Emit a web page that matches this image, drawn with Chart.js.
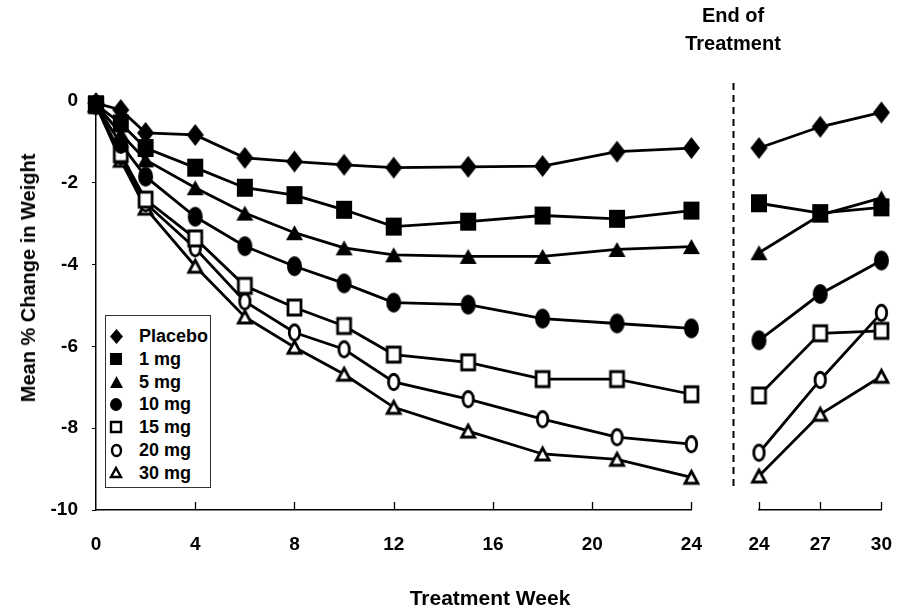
<!DOCTYPE html>
<html><head><meta charset="utf-8">
<script src="https://cdn.jsdelivr.net/npm/chart.js@4"></script>
<style>
html,body{margin:0;padding:0;background:#fff;}
body{width:915px;height:609px;position:relative;overflow:hidden;font-family:"Liberation Sans",Arial,sans-serif;font-weight:bold;color:#000;}
canvas{position:absolute;top:0;}
#c1{left:0;}
#c2{left:725px;}
.t{position:absolute;white-space:nowrap;line-height:1;transform:translate(-50%,-50%);}
#legend{position:absolute;left:105px;top:315px;width:106px;height:173px;border:1px solid #333;box-sizing:border-box;background:#fff;}
.row{position:absolute;left:0;width:104px;height:22px;font-size:18px;line-height:22px;white-space:nowrap;}
.row canvas{position:absolute;}
.row span{position:absolute;left:33px;top:0;white-space:nowrap;}
</style></head><body>
<canvas id="c1" width="725" height="609"></canvas>
<canvas id="c2" width="190" height="609"></canvas>
<div class="t" style="left:28px;top:278px;font-size:20px;transform:translate(-50%,-50%) rotate(-90deg);">Mean % Change in Weight</div>
<div class="t" style="left:490px;top:597px;font-size:21px;">Treatment Week</div>
<div class="t" style="left:733px;top:15px;font-size:20px;">End of</div>
<div class="t" style="left:733px;top:43px;font-size:20px;">Treatment</div>
<div id="legend"></div>
<script>
// ---- data ----
const seriesNames = ['Placebo', '1 mg', '5 mg', '10 mg', '15 mg', '20 mg', '30 mg'];
const weeks = [0, 1, 2, 4, 6, 8, 10, 12, 15, 18, 21, 24];
const placebo = [-0.05, -0.22, -0.78, -0.83, -1.39, -1.48, -1.56, -1.63, -1.61, -1.59, -1.24, -1.15];
const mg1  = [-0.08, -0.55, -1.15, -1.63, -2.12, -2.30, -2.66, -3.07, -2.95, -2.80, -2.88, -2.68];
const mg5  = [-0.08, -0.80, -1.44, -2.12, -2.74, -3.22, -3.59, -3.76, -3.80, -3.80, -3.63, -3.56];
const mg10 = [-0.10, -1.05, -1.85, -2.83, -3.55, -4.04, -4.46, -4.93, -4.98, -5.32, -5.44, -5.56];
const mg15 = [-0.10, -1.30, -2.41, -3.36, -4.52, -5.05, -5.50, -6.20, -6.39, -6.80, -6.80, -7.17];
const mg20 = [-0.10, -1.35, -2.50, -3.60, -4.90, -5.66, -6.07, -6.87, -7.29, -7.78, -8.22, -8.39];
const mg30 = [-0.10, -1.45, -2.62, -4.04, -5.28, -6.02, -6.68, -7.49, -8.07, -8.63, -8.76, -9.20];

const postWeeks = [24, 27, 30];
const postPlacebo = [-1.15, -0.63, -0.28];
const post1  = [-2.50, -2.74, -2.60];
const post5  = [-3.71, -2.79, -2.37];
const post10 = [-5.85, -4.72, -3.90];
const post15 = [-7.20, -5.68, -5.62];
const post20 = [-8.60, -6.82, -5.18];
const post30 = [-9.17, -7.66, -6.73];

const xTicksMain = [0, 4, 8, 12, 16, 20, 24];
const xTicksPost = [24, 27, 30];
const yTicks = [0, -2, -4, -6, -8, -10];

// ---- marker images ----
function makeMarker(kind, filled, w, h, lw) {
  const c = document.createElement('canvas');
  const pad = filled ? 1 : Math.ceil(lw * 2);
  c.width = Math.round(w + 2 * pad); c.height = Math.round(h + 2 * pad);
  const g = c.getContext('2d');
  g.translate(c.width / 2, c.height / 2);
  g.beginPath();
  if (kind === 'diamond') { g.moveTo(0, -h/2); g.lineTo(w/2, 0); g.lineTo(0, h/2); g.lineTo(-w/2, 0); g.closePath(); }
  else if (kind === 'square') { g.rect(-w/2, -h/2, w, h); }
  else if (kind === 'triangle') { g.moveTo(0, -h/2); g.lineTo(w/2, h/2); g.lineTo(-w/2, h/2); g.closePath(); }
  else { g.ellipse(0, 0, w/2, h/2, 0, 0, Math.PI * 2); }
  if (filled) { g.fillStyle = '#000'; g.fill(); }
  else { g.fillStyle = '#fff'; g.fill(); g.lineWidth = lw; g.strokeStyle = '#000'; g.lineJoin = 'miter'; g.stroke(); }
  return c;
}
const markerSpec = [
  ['diamond', true, 17, 22], ['square', true, 16, 18], ['triangle', true, 17, 15],
  ['circle', true, 15, 20], ['square', false, 13, 15], ['circle', false, 10.5, 15.5], ['triangle', false, 13, 12]
];
const legendSpec = [
  ['diamond', true, 13, 15], ['square', true, 12, 12], ['triangle', true, 13, 12],
  ['circle', true, 12, 13], ['square', false, 10, 10], ['circle', false, 9, 11], ['triangle', false, 10, 9]
];
const markers = markerSpec.map(s => makeMarker(s[0], s[1], s[2], s[3], 2.8));

const mainSeries = [placebo, mg1, mg5, mg10, mg15, mg20, mg30];
const postSeries = [postPlacebo, post1, post5, post10, post15, post20, post30];

const FONT = '"Liberation Sans", Arial, sans-serif';
function ds(xs, ys, i) {
  return {
    label: seriesNames[i],
    data: xs.map((x, k) => ({ x: x, y: ys[k] })),
    borderColor: '#000', borderWidth: 2.8, tension: 0,
    pointStyle: markers[i], pointRadius: 8, pointHoverRadius: 8,
    clip: false, fill: false
  };
}
function setTicks(arr) { return function (scale) { scale.ticks = arr.map(v => ({ value: v })); }; }

const innerTicks = {
  id: 'innerTicks',
  beforeDatasetsDraw(chart, args, opts) {
    const s = chart.scales.x, ctx = chart.ctx, b = chart.chartArea.bottom;
    ctx.save(); ctx.strokeStyle = '#000'; ctx.lineWidth = 1.3;
    opts.values.forEach(v => {
      const px = Math.round(s.getPixelForValue(v)) + 0.5;
      ctx.beginPath(); ctx.moveTo(px, b); ctx.lineTo(px, b - 8); ctx.stroke();
    });
    ctx.restore();
  }
};
const dashedLine = {
  id: 'dashedLine',
  beforeDatasetsDraw(chart) {
    const ctx = chart.ctx, a = chart.chartArea;
    const x = a.left - 26 + 0.5;
    ctx.save(); ctx.strokeStyle = '#000'; ctx.lineWidth = 2; ctx.setLineDash([7, 5]);
    ctx.beginPath(); ctx.moveTo(x, a.top - 18); ctx.lineTo(x, a.bottom - 20); ctx.stroke();
    ctx.restore();
  }
};

const tickFont = { family: FONT, size: 19, weight: 'bold' };

new Chart(document.getElementById('c1'), {
  type: 'line',
  data: { datasets: mainSeries.map((s, i) => ds(weeks, s, i)) },
  plugins: [innerTicks],
  options: {
    responsive: false, animation: false, events: [],
    layout: { padding: { left: 0, top: 101, right: 20, bottom: 0 } },
    plugins: { legend: { display: false }, tooltip: { enabled: false }, innerTicks: { values: xTicksMain.slice(1) } },
    scales: {
      x: {
        type: 'linear', min: 0, max: 24,
        afterBuildTicks: setTicks(xTicksMain),
        afterFit: s => { s.height = 99; },
        grid: { display: false, drawTicks: false },
        border: { display: true, color: '#000', width: 1.5 },
        ticks: { font: tickFont, color: '#000', padding: 23, maxRotation: 0, autoSkip: false }
      },
      y: {
        type: 'linear', min: -10, max: 0,
        afterBuildTicks: setTicks(yTicks),
        afterFit: s => { s.width = 96; },
        grid: { drawOnChartArea: false, drawTicks: true, tickLength: 4, color: '#000', lineWidth: 1 },
        border: { display: true, color: '#000', width: 1.5 },
        ticks: { font: tickFont, color: '#000', padding: 14, callback: v => String(v) }
      }
    }
  }
});

new Chart(document.getElementById('c2'), {
  type: 'line',
  data: { datasets: postSeries.map((s, i) => ds(postWeeks, s, i)) },
  plugins: [innerTicks, dashedLine],
  options: {
    responsive: false, animation: false, events: [],
    layout: { padding: { left: 34, top: 101, right: 32, bottom: 0 } },
    plugins: { legend: { display: false }, tooltip: { enabled: false }, innerTicks: { values: xTicksPost } },
    scales: {
      x: {
        type: 'linear', min: 24, max: 30,
        afterBuildTicks: setTicks(xTicksPost),
        afterFit: s => { s.height = 99; },
        grid: { display: false, drawTicks: false },
        border: { display: true, color: '#000', width: 1.5 },
        ticks: { font: tickFont, color: '#000', padding: 23, maxRotation: 0, autoSkip: false }
      },
      y: { type: 'linear', min: -10, max: 0, display: false }
    }
  }
});

// ---- legend ----
const leg = document.getElementById('legend');
seriesNames.forEach((name, i) => {
  const row = document.createElement('div');
  row.className = 'row';
  row.style.top = (9 + i * 22.8) + 'px';
  const s = legendSpec[i];
  const m = makeMarker(s[0], s[1], s[2], s[3], 2.4);
  m.style.left = (10 - m.width / 2) + 'px';
  m.style.top = (11 - m.height / 2) + 'px';
  row.appendChild(m);
  const sp = document.createElement('span');
  sp.textContent = name;
  row.appendChild(sp);
  leg.appendChild(row);
});
</script>
</body></html>
